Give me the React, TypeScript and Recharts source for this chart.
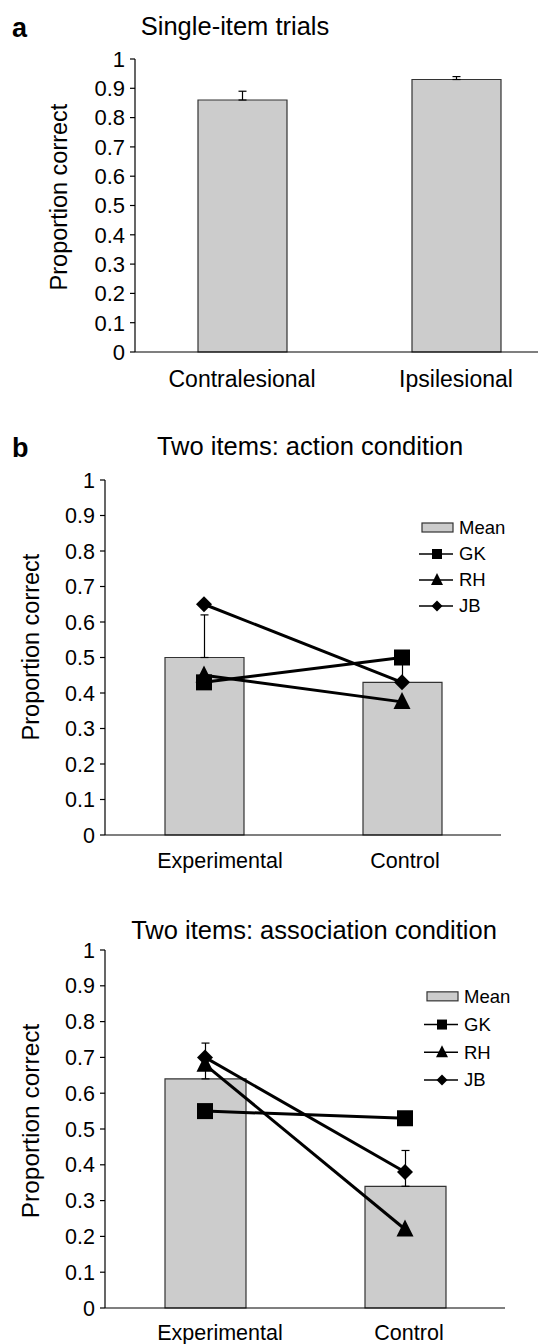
import React from 'react';
import { ComposedChart, Bar, Line, XAxis, YAxis, ErrorBar, Legend } from 'recharts';

const FONT = '"Liberation Sans", Arial, Helvetica, sans-serif';

// panel a: single-item trials
const singleCategories = ['Contralesional', 'Ipsilesional'];
const singleMean = [0.86, 0.93];
const singleErr = [0.03, 0.01];

// panels b and c: two items
const pairCategories = ['Experimental', 'Control'];
const actionMean = [0.5, 0.43];
const actionErr = [0.12, 0.07];
const actionGK = [0.43, 0.5];
const actionRH = [0.45, 0.375];
const actionJB = [0.65, 0.43];

const assocMean = [0.64, 0.34];
const assocErr = [0.1, 0.1];
const assocGK = [0.55, 0.53];
const assocRH = [0.68, 0.22];
const assocJB = [0.7, 0.38];

const yTicks = [0, 0.1, 0.2, 0.3, 0.4, 0.5, 0.6, 0.7, 0.8, 0.9, 1];
const subjects = ['GK', 'RH', 'JB'];
const legendOrder = ['mean', ...subjects];
const markerKind: Record<string, string> = { GK: 'square', RH: 'triangle', JB: 'diamond' };

const singleRows = singleCategories.map((name, i) => ({
  name,
  mean: singleMean[i],
  err: [0, singleErr[i]],
}));

const actionRows = pairCategories.map((name, i) => ({
  name,
  mean: actionMean[i],
  err: [0, actionErr[i]],
  GK: actionGK[i],
  RH: actionRH[i],
  JB: actionJB[i],
}));

const assocRows = pairCategories.map((name, i) => ({
  name,
  mean: assocMean[i],
  err: [0, assocErr[i]],
  GK: assocGK[i],
  RH: assocRH[i],
  JB: assocJB[i],
}));

const Marker = ({ kind, cx, cy, size }: any) => {
  if (cx == null || cy == null) return null;
  const h = size / 2;
  if (kind === 'square') {
    return <rect x={cx - h} y={cy - h} width={size} height={size} fill="#000" />;
  }
  if (kind === 'triangle') {
    return (
      <polygon
        points={`${cx},${cy - size * 0.58} ${cx + h},${cy + size * 0.42} ${cx - h},${cy + size * 0.42}`}
        fill="#000"
      />
    );
  }
  return <polygon points={`${cx},${cy - h} ${cx + h},${cy} ${cx},${cy + h} ${cx - h},${cy}`} fill="#000" />;
};

const dotSize: Record<string, number> = { square: 16, triangle: 17, diamond: 16 };
const legendMarkerSize: Record<string, number> = { square: 10, triangle: 12, diamond: 11 };

const legendContent = (rowGap: number) => (props: any) => {
  const items = [...(props.payload || [])].sort(
    (a: any, b: any) => legendOrder.indexOf(a.dataKey) - legendOrder.indexOf(b.dataKey)
  );
  return (
    <svg width={130} height={rowGap * items.length + 4} style={{ display: 'block', overflow: 'visible' }}>
      {items.map((it: any, i: number) => {
        const cy = rowGap * i + rowGap / 2;
        const kind = markerKind[it.dataKey];
        return (
          <g key={String(it.dataKey)}>
            {it.dataKey === 'mean' ? (
              <rect x={3} y={cy - 5} width={31} height={9} fill="#cccccc" stroke="#333" strokeWidth={1.2} />
            ) : (
              <g>
                <line x1={0} x2={34} y1={cy} y2={cy} stroke="#000" strokeWidth={1.4} />
                <Marker kind={kind} cx={18} cy={cy} size={legendMarkerSize[kind]} />
              </g>
            )}
            <text x={40} y={cy} dy="0.35em" fontSize={18.5} fontFamily={FONT} fill="#000">
              {it.value}
            </text>
          </g>
        );
      })}
    </svg>
  );
};

const Panel = (p: any) => {
  const xAxisHeight = p.xAxisHeight;
  const edgeTicks = Array.from({ length: p.data.length + 1 }, (_, i) => i);
  return (
    <div style={{ position: 'absolute', left: 0, top: p.top }}>
      <ComposedChart
        width={p.width}
        height={p.height}
        data={p.data}
        margin={{
          top: p.plotTop,
          right: p.width - p.plotRight,
          left: 0,
          bottom: p.height - p.plotBottom - xAxisHeight,
        }}
      >
        <XAxis
          xAxisId="edge"
          type="number"
          domain={[0, p.data.length]}
          ticks={edgeTicks}
          allowDataOverflow
          height={0}
          axisLine={false}
          tickLine={{ stroke: '#000', strokeWidth: 1.2 }}
          tickSize={5}
          tickFormatter={() => ''}
          interval={0}
        />
        <XAxis
          dataKey="name"
          height={xAxisHeight}
          axisLine={{ stroke: '#000', strokeWidth: 1.2 }}
          tickLine={false}
          tickSize={6}
          tickMargin={p.catMargin}
          interval={0}
          tick={(t: any) => (
            <text
              x={t.x + (p.labelShift[t.index] || 0)}
              y={t.y}
              dy="0.71em"
              textAnchor="middle"
              fontSize={p.catFont}
              fontFamily={FONT}
              fill="#000"
            >
              {t.payload.value}
            </text>
          )}
        />
        <YAxis
          width={p.plotLeft}
          type="number"
          domain={[0, 1]}
          ticks={yTicks}
          interval={0}
          axisLine={{ stroke: '#000', strokeWidth: 1.2 }}
          tickLine={{ stroke: '#000', strokeWidth: 1.2 }}
          tickSize={5}
          tickMargin={5}
          tick={{ fontSize: p.tickFont, fill: '#000', fontFamily: FONT }}
        />
        <Bar
          dataKey="mean"
          name="Mean"
          fill="#cccccc"
          stroke="#333"
          strokeWidth={1.2}
          barSize={p.barSize}
          isAnimationActive={false}
        >
          <ErrorBar dataKey="err" width={4} stroke="#000" strokeWidth={1.2} isAnimationActive={false} />
        </Bar>
        {p.withSubjects &&
          subjects.map((s) => (
            <Line
              key={s}
              type="linear"
              dataKey={s}
              name={s}
              stroke="#000"
              strokeWidth={3}
              isAnimationActive={false}
              activeDot={false}
              dot={(d: any) => (
                <Marker
                  key={`${s}-${d.index}`}
                  kind={markerKind[s]}
                  cx={d.cx}
                  cy={d.cy}
                  size={dotSize[markerKind[s]]}
                />
              )}
            />
          ))}
        {p.legend && (
          <Legend
            layout="vertical"
            align="center"
            verticalAlign="middle"
            content={legendContent(p.legend.gap)}
            wrapperStyle={{ left: p.legend.left, top: p.legend.top, width: 'auto', height: 'auto' }}
          />
        )}
        {p.letter && (
          <text x={12} y={p.letterY} fontSize={27} fontWeight="bold" fontFamily={FONT} fill="#000">
            {p.letter}
          </text>
        )}
        <text x={p.titleX} y={p.titleY} textAnchor="middle" fontSize={25.5} fontFamily={FONT} fill="#000">
          {p.title}
        </text>
        <text
          x={p.yLabelX}
          y={p.yLabelY}
          textAnchor="middle"
          fontSize={p.yLabelFont}
          fontFamily={FONT}
          fill="#000"
          transform={`rotate(-90, ${p.yLabelX}, ${p.yLabelY})`}
        >
          Proportion correct
        </text>
      </ComposedChart>
    </div>
  );
};

export default function App() {
  return (
    <div
      style={{
        position: 'absolute',
        left: 0,
        top: 0,
        width: 538,
        height: 1344,
        overflow: 'hidden',
        background: '#fff',
      }}
    >
      <Panel
        top={0}
        width={580}
        height={400}
        plotLeft={135}
        plotRight={563}
        plotTop={59}
        plotBottom={352}
        xAxisHeight={40}
        data={singleRows}
        withSubjects={false}
        letter="a"
        letterY={37}
        title="Single-item trials"
        titleX={235}
        titleY={35}
        yLabelX={67}
        yLabelY={197}
        yLabelFont={23.5}
        tickFont={22}
        catFont={23}
        catMargin={13}
        labelShift={[0, 0]}
        barSize={89}
      />
      <Panel
        top={400}
        width={538}
        height={480}
        plotLeft={105}
        plotRight={501}
        plotTop={80}
        plotBottom={435}
        xAxisHeight={40}
        data={actionRows}
        withSubjects
        letter="b"
        letterY={57}
        title="Two items: action condition"
        titleX={310}
        titleY={55}
        yLabelX={38.5}
        yLabelY={247}
        yLabelFont={23.5}
        tickFont={21.5}
        catFont={21.5}
        catMargin={12}
        labelShift={[16, 3]}
        barSize={79}
        legend={{ left: 419, top: 115, gap: 26 }}
      />
      <Panel
        top={880}
        width={538}
        height={464}
        plotLeft={105}
        plotRight={505}
        plotTop={70}
        plotBottom={428}
        xAxisHeight={32}
        data={assocRows}
        withSubjects
        title="Two items: association condition"
        titleX={314}
        titleY={59}
        yLabelX={38.5}
        yLabelY={241}
        yLabelFont={24.5}
        tickFont={21.5}
        catFont={21.5}
        catMargin={11}
        labelShift={[15, 4]}
        barSize={81}
        legend={{ left: 424, top: 103, gap: 27.7 }}
      />
    </div>
  );
}
